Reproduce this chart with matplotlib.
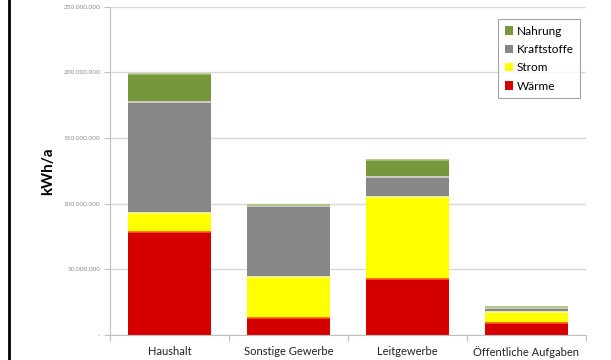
import numpy as np
import matplotlib

matplotlib.use("Agg")
import matplotlib.pyplot as plt
from matplotlib.patches import Patch
from matplotlib.lines import Line2D

plt.rcParams["font.family"] = ["Lato", "DejaVu Sans"]

categories = ["Haushalt", "Sonstige Gewerbe", "Leitgewerbe", "Öffentliche Aufgaben"]
waerme = [78.5e6, 12.7e6, 42.7e6, 9.4e6]
strom = [14.2e6, 31.3e6, 62.7e6, 8.4e6]
kraftstoffe = [85.1e6, 54.6e6, 15.3e6, 3.0e6]
nahrung = [21.2e6, 0.3e6, 12.7e6, 0.3e6]

series = [
    ("Wärme", waerme, "#d40000", "#ff5a1e"),
    ("Strom", strom, "#ffff00", "#ffff9a"),
    ("Kraftstoffe", kraftstoffe, "#878787", "#d8d8d8"),
    ("Nahrung", nahrung, "#77973c", "#a9c47a"),
]

yticks = [0, 50e6, 100e6, 150e6, 200e6, 250e6]
ytick_labels = ["-", "50.000.000", "100.000.000", "150.000.000", "200.000.000", "250.000.000"]

fig = plt.figure(figsize=(6.11, 3.6), dpi=100)
ax = fig.add_axes([0.18, 0.0694, 0.779, 0.912])

x = np.arange(len(categories))
width = 0.69
bottom = np.zeros(len(categories))
for name, vals, col, hi in series:
    vals = np.array(vals)
    ax.bar(x, vals, width, bottom=bottom, color=col, edgecolor="none", zorder=2)
    # thin bevel highlight along the top of each segment
    ax.hlines(bottom + vals, x - width / 2, x + width / 2, colors=hi, linewidth=1.2, zorder=3)
    bottom += vals

ax.set_xlim(-0.5, len(categories) - 0.5)
ax.set_ylim(0, 250e6)
ax.set_yticks(yticks)
ax.set_yticklabels(ytick_labels, fontsize=4.6, color="#8a8a8a")
ax.yaxis.grid(True, color="#d9d9d9", linewidth=1.0, zorder=0)
ax.set_axisbelow(True)
ax.tick_params(axis="y", length=4, color="#bfbfbf", width=0.8, pad=3)

ax.set_xticks(x)
ax.set_xticklabels(categories, fontsize=8, color="#222222")
ax.set_xticks(np.arange(len(categories) + 1) - 0.5, minor=True)
ax.tick_params(axis="x", which="major", length=0, pad=8)
ax.tick_params(axis="x", which="minor", length=4, color="#bfbfbf", width=0.8)

for s in ["top", "right"]:
    ax.spines[s].set_visible(False)
ax.spines["left"].set_color("#bfbfbf")
ax.spines["bottom"].set_color("#bfbfbf")

ax.set_ylabel("kWh/a", fontsize=11, fontweight="bold")
ax.yaxis.set_label_coords(-0.116, 0.5)

handles = [Patch(facecolor=c, edgecolor="none", label=n) for n, _, c, _ in reversed(series)]
leg = ax.legend(handles=handles, loc="upper right", bbox_to_anchor=(1.0, 0.98),
                fontsize=8.5, frameon=True, fancybox=False, handlelength=0.7,
                handleheight=0.7, handletextpad=0.3, borderpad=0.55, labelspacing=0.62)
leg.get_frame().set_edgecolor("#8c8c8c")
leg.get_frame().set_linewidth(0.8)

# black frame edge at the left border
fig.add_artist(Line2D([0.0145, 0.0145], [0, 1], transform=fig.transFigure, color="black", linewidth=2))

fig.savefig("out.png", dpi=100)
